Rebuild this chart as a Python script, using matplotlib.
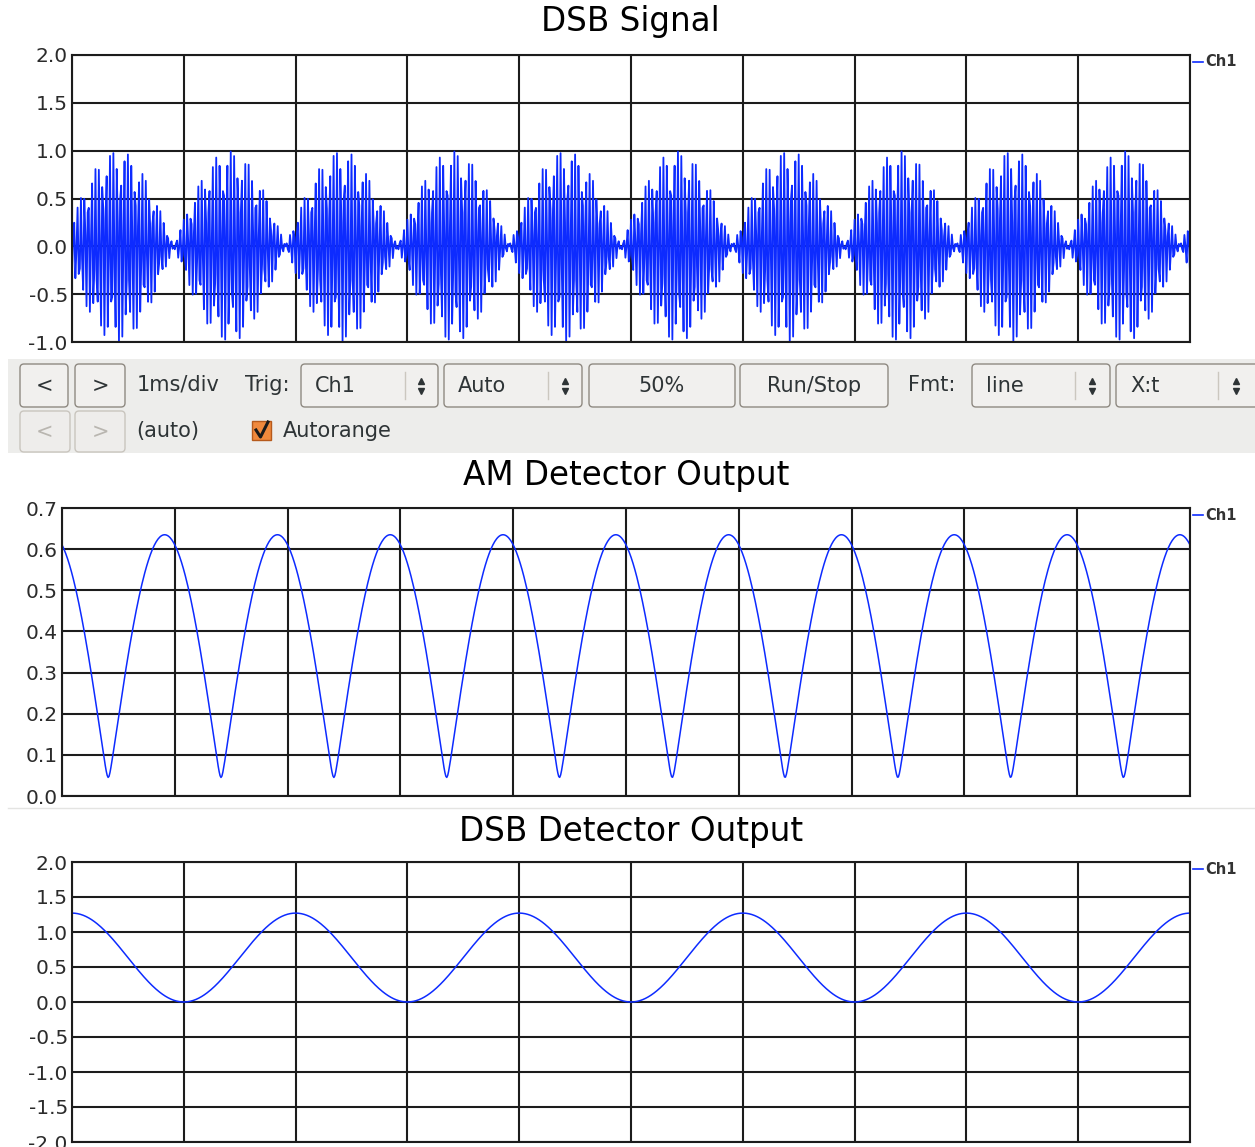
import numpy as np
import matplotlib
matplotlib.use("Agg")
import matplotlib.pyplot as plt
from matplotlib.patches import FancyBboxPatch, Rectangle

W, H = 1255, 1147

# ---------------- data ----------------
x_divisions = list(range(0, 11))          # 1 ms/div, 10 divisions
dsb_yticks = [-1.0, -0.5, 0.0, 0.5, 1.0, 1.5, 2.0]
am_yticks = [0.0, 0.1, 0.2, 0.3, 0.4, 0.5, 0.6, 0.7]
det_yticks = [-2.0, -1.5, -1.0, -0.5, 0.0, 0.5, 1.0, 1.5, 2.0]
titles = ["DSB Signal", "AM Detector Output", "DSB Detector Output"]
channel_name = "Ch1"

# trace parameters estimated from the scope traces (time in ms)
dsb_peak = 1.0
dsb_first_null_ms = 0.91
dsb_burst_period_ms = 1.0
dsb_sample_rate_khz = 100.0
dsb_carrier_khz = 31.0

am_max = 0.635
am_min = 0.045
am_first_peak_ms = 0.91
am_period_ms = 1.0

det_max = 1.27
det_min = 0.0
det_first_peak_ms = 0.0
det_period_ms = 2.0

# ---------------- traces ----------------
t_dsb = np.arange(0, 10 + 1e-9, 1.0 / dsb_sample_rate_khz)
env = np.sin(np.pi * (t_dsb - dsb_first_null_ms) / dsb_burst_period_ms)
dsb = dsb_peak * env * np.cos(2 * np.pi * dsb_carrier_khz * t_dsb)

t = np.linspace(0, 10, 1200)
c = np.abs(np.cos(np.pi * (t - am_first_peak_ms) / am_period_ms))
r = 0.05
shape = (np.sqrt(c ** 2 + r ** 2) - r) / (np.sqrt(1 + r ** 2) - r)
am = am_min + (am_max - am_min) * shape

det = det_min + (det_max - det_min) * 0.5 * (1 + np.cos(2 * np.pi * (t - det_first_peak_ms) / det_period_ms))

# ---------------- figure ----------------
fig = plt.figure(figsize=(W / 100, H / 100), dpi=100)
fig.patch.set_facecolor("white")

ui = fig.add_axes([0, 0, 1, 1], zorder=0)
ui.set_xlim(0, W)
ui.set_ylim(H, 0)
ui.axis("off")
ui.patch.set_alpha(0)

TRACE = "#0d2bff"
GRID = "#1c1c1c"
TXT = "#2e3436"
TITLE_FS = 23.5
UI_FS = 15


def px_axes(left, top, right, bottom):
    return fig.add_axes([left / W, 1 - bottom / H, (right - left) / W, (bottom - top) / H], zorder=1)


def style(ax, yticks):
    ax.set_xlim(0, 10)
    ax.set_ylim(yticks[0], yticks[-1])
    ax.set_xticks(x_divisions)
    ax.set_xticklabels([])
    ax.set_yticks(yticks)
    ax.set_yticklabels([f"{v:.1f}" for v in yticks])
    ax.tick_params(length=0, pad=3, labelsize=14.5, labelcolor="#2b2b2b")
    ax.grid(True, color=GRID, lw=1.5)
    ax.set_axisbelow(True)
    for s in ax.spines.values():
        s.set_color(GRID)
        s.set_linewidth(1.5)


def legend(top):
    ui.plot([1193, 1203], [top + 7, top + 7], color=TRACE, lw=1.2)
    ui.text(1205, top + 7, channel_name, fontsize=10.5, fontweight="bold",
            color="#333333", va="center", ha="left")


# top plot
ax1 = px_axes(72, 55, 1190, 342)
style(ax1, dsb_yticks)
ax1.plot(t_dsb, dsb, color=TRACE, lw=1.3)
ui.text(630, 22, titles[0], fontsize=TITLE_FS, ha="center", va="center", color="black")
legend(55)

# middle plot
ax2 = px_axes(62, 508, 1190, 796)
style(ax2, am_yticks)
ax2.plot(t, am, color=TRACE, lw=1.1)
ui.text(626, 476, titles[1], fontsize=TITLE_FS, ha="center", va="center", color="black")
legend(508)

# bottom plot
ax3 = px_axes(72, 862, 1190, 1142)
style(ax3, det_yticks)
ax3.plot(t, det, color=TRACE, lw=1.1)
ui.text(631, 832, titles[2], fontsize=TITLE_FS, ha="center", va="center", color="black")
legend(862)

# ---------------- control panel ----------------
ui.add_patch(Rectangle((8, 359), W - 8, 94, fc="#ededeb", ec="none"))
ui.plot([8, W], [808, 808], color="#e4e4e2", lw=1)


def button(x0, x1, y0, y1, label=None, disabled=False, lx=None):
    fc = "#f1f0ee" if not disabled else "#eeedeb"
    ec = "#8f8a82" if not disabled else "#c9c5be"
    ui.add_patch(FancyBboxPatch((x0, y0), x1 - x0, y1 - y0,
                                boxstyle="round,pad=0,rounding_size=4",
                                fc=fc, ec=ec, lw=1.0))
    if label is not None:
        col = TXT if not disabled else "#b9b6b0"
        if lx is None:
            ui.text((x0 + x1) / 2, (y0 + y1) / 2, label, fontsize=UI_FS, color=col,
                    ha="center", va="center")
        else:
            ui.text(lx, (y0 + y1) / 2, label, fontsize=UI_FS, color=col,
                    ha="left", va="center")


def combo(x0, x1, sep, arrow, label, y0=364, y1=407):
    button(x0, x1, y0, y1, label, lx=x0 + 14)
    ui.plot([sep, sep], [y0 + 8, y1 - 8], color="#cbc7bf", lw=1)
    yc = (y0 + y1) / 2
    ui.plot([arrow], [yc - 5], marker="^", ms=4.2, color=TXT, mec=TXT)
    ui.plot([arrow], [yc + 5], marker="v", ms=4.2, color=TXT, mec=TXT)


r1a, r1b = 364, 407
r2a, r2b = 411, 452
button(20, 68, r1a, r1b, "<")
button(75, 125, r1a, r1b, ">")
ui.text(137, 385, "1ms/div", fontsize=UI_FS, color=TXT, ha="left", va="center")
ui.text(245, 385, "Trig:", fontsize=UI_FS, color=TXT, ha="left", va="center")
combo(301, 438, 405, 421, "Ch1")
combo(444, 582, 548, 565, "Auto")
button(589, 735, r1a, r1b, "50%")
button(740, 888, r1a, r1b, "Run/Stop")
ui.text(908, 385, "Fmt:", fontsize=UI_FS, color=TXT, ha="left", va="center")
combo(972, 1110, 1075, 1092, "line")
combo(1116, 1262, 1218, 1236, "X:t")

button(20, 70, r2a, r2b, "<", disabled=True)
button(75, 125, r2a, r2b, ">", disabled=True)
ui.text(136, 431, "(auto)", fontsize=UI_FS, color=TXT, ha="left", va="center")
ui.add_patch(Rectangle((252, 421), 19, 19, fc="#f0893c", ec="#b65a1c", lw=1))
ui.plot([256, 260.5, 268], [430, 437, 422], color="#1a1a1a", lw=2.2)
ui.text(283, 431, "Autorange", fontsize=UI_FS, color=TXT, ha="left", va="center")

fig.savefig("out.png", dpi=100)
